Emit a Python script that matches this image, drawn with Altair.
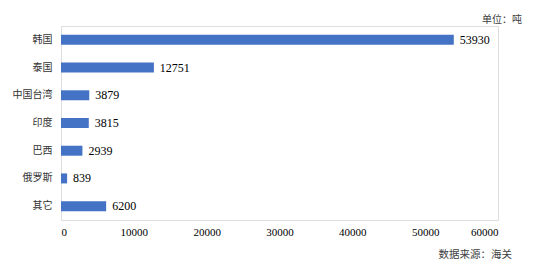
import altair as alt
import pandas as pd

categories = ["韩国", "泰国", "中国台湾", "印度", "巴西", "俄罗斯", "其它"]
values = [53930, 12751, 3879, 3815, 2939, 839, 6200]
x_ticks = [0, 10000, 20000, 30000, 40000, 50000, 60000]
unit_text = "单位：吨"
source_text = "数据来源：海关"

df = pd.DataFrame({"cat": categories, "val": values})

CJK = "Noto Sans CJK SC"
NUM = "Liberation Serif"

y_enc = alt.Y("cat:N", sort=categories, title=None,
              scale=alt.Scale(paddingInner=0.64, paddingOuter=0.32),
              axis=alt.Axis(domain=False, ticks=False, labelFont=CJK, labelFontSize=10,
                            labelColor="#333333", labelPadding=9))
x_enc = alt.X("val:Q", title=None,
              scale=alt.Scale(domain=[0, 60000], nice=False),
              axis=alt.Axis(values=x_ticks, domain=False, ticks=False, grid=False,
                            labelFont=NUM, labelFontSize=11, labelColor="#000000",
                            labelPadding=6, format="d"))

bars = alt.Chart(df).mark_bar(color="#4472C4").encode(x=x_enc, y=y_enc)
labels = alt.Chart(df).mark_text(align="left", baseline="middle", dx=6,
                                  font=NUM, fontSize=12, color="#000000").encode(
    x="val:Q", y=alt.Y("cat:N", sort=categories), text="val:Q")

unit = alt.Chart(pd.DataFrame({"t": [unit_text]})).mark_text(
    align="right", baseline="middle", font=CJK, fontSize=10, color="#404040").encode(
    x=alt.value(461), y=alt.value(-6), text="t:N")
source = alt.Chart(pd.DataFrame({"t": [source_text]})).mark_text(
    align="right", baseline="middle", font=CJK, fontSize=10.5, color="#404040").encode(
    x=alt.value(451), y=alt.value(229), text="t:N")

chart = alt.layer(bars, labels, unit, source).properties(
    width=437, height=194,
    autosize=alt.AutoSizeParams(type="none"),
    padding={"left": 61, "top": 26, "right": 35, "bottom": 44},
).configure_view(stroke=None).configure(background="white")

chart.save("out.html", embed_options={"renderer": "svg", "actions": False})
